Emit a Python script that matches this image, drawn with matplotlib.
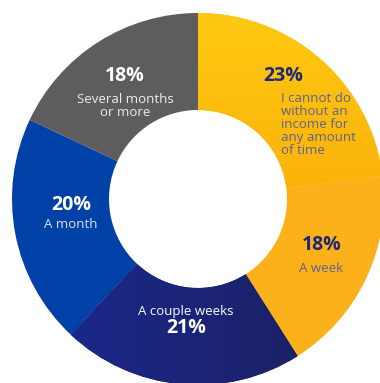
import numpy as np
import matplotlib
matplotlib.use("Agg")
import matplotlib.pyplot as plt
from matplotlib.colors import LinearSegmentedColormap

plt.rcParams['font.family'] = ['Open Sans', 'DejaVu Sans']

# How long respondents could go without an income
shares = [23, 18, 21, 20, 18]
pct_labels = ["23%", "18%", "21%", "20%", "18%"]
categories = ["I cannot do\nwithout an\nincome for\nany amount\nof time",
              "A week", "A couple weeks", "A month", "Several months\nor more"]
colors = ["#FDBA10", "#FBB21A", "#1C1F5E", "#0041A8", "#5E5C5D"]

W, H = 380, 383
fig = plt.figure(figsize=(W / 100, H / 100), dpi=100)
ax = fig.add_axes([0, 0, 1, 1])

cx, cy = 198, H - 199
R, r_in = 186, 89

wedges, _ = ax.pie(shares, colors=colors, startangle=90, counterclock=False,
                   radius=R, center=(cx, cy), frame=True,
                   wedgeprops=dict(width=R - r_in, linewidth=0))
ax.set_xlim(0, W)
ax.set_ylim(0, H)
ax.set_aspect("equal")
ax.axis("off")

# gradient fills clipped to their wedges
def gradient_fill(wedge, c0, c1, direction):
    n = 256
    t = np.linspace(0, 1, n)
    if direction == "vertical":
        grid = np.tile(t[:, None], (1, n))
    else:
        grid = np.tile(t[None, :], (n, 1))
    cmap = LinearSegmentedColormap.from_list("g", [c0, c1])
    im = ax.imshow(grid, cmap=cmap, extent=(cx - R, cx + R, cy - R, cy + R),
                   origin="upper", zorder=wedge.get_zorder() + 0.1,
                   interpolation="bilinear")
    im.set_clip_path(wedge)

# top slice: yellow at top fading to orange below
gradient_fill(wedges[0], "#FEC912", "#F89A00", "vertical")
# bottom slice: brighter blue on the left to deep navy on the right
gradient_fill(wedges[2], "#1A2A92", "#1C1E5A", "horizontal")
ax.set_xlim(0, W)
ax.set_ylim(0, H)

navy_txt = "#1F2777"
soft_txt = "#5B6190"

def put(x, y, s, **kw):
    ax.text(x, H - y, s, ha="center", va="center", zorder=5, **kw)

# 23%
put(283, 76, pct_labels[0], fontsize=14, fontweight="bold", color=navy_txt)
ax.text(281, H - 92, categories[0], ha="left", va="top", fontsize=9.5,
        color=soft_txt, linespacing=1.0, zorder=5)
# 18% a week
put(322, 245, pct_labels[1], fontsize=14, fontweight="bold", color=navy_txt)
put(321, 268, categories[1], fontsize=9.5, color=soft_txt)
# 21%
put(186, 312, categories[2], fontsize=9.5, color="white")
put(186, 328, pct_labels[2], fontsize=14, fontweight="bold", color="white")
# 20%
put(71, 205, pct_labels[3], fontsize=14, fontweight="bold", color="white")
put(71, 225, categories[3], fontsize=9.5, color="#DDE5F4")
# 18% several months
put(125, 76, pct_labels[4], fontsize=14, fontweight="bold", color="white")
put(125, 106, categories[4], fontsize=9.5, color="#EEEEEE", linespacing=1.0)

fig.savefig("out.png", dpi=100)
